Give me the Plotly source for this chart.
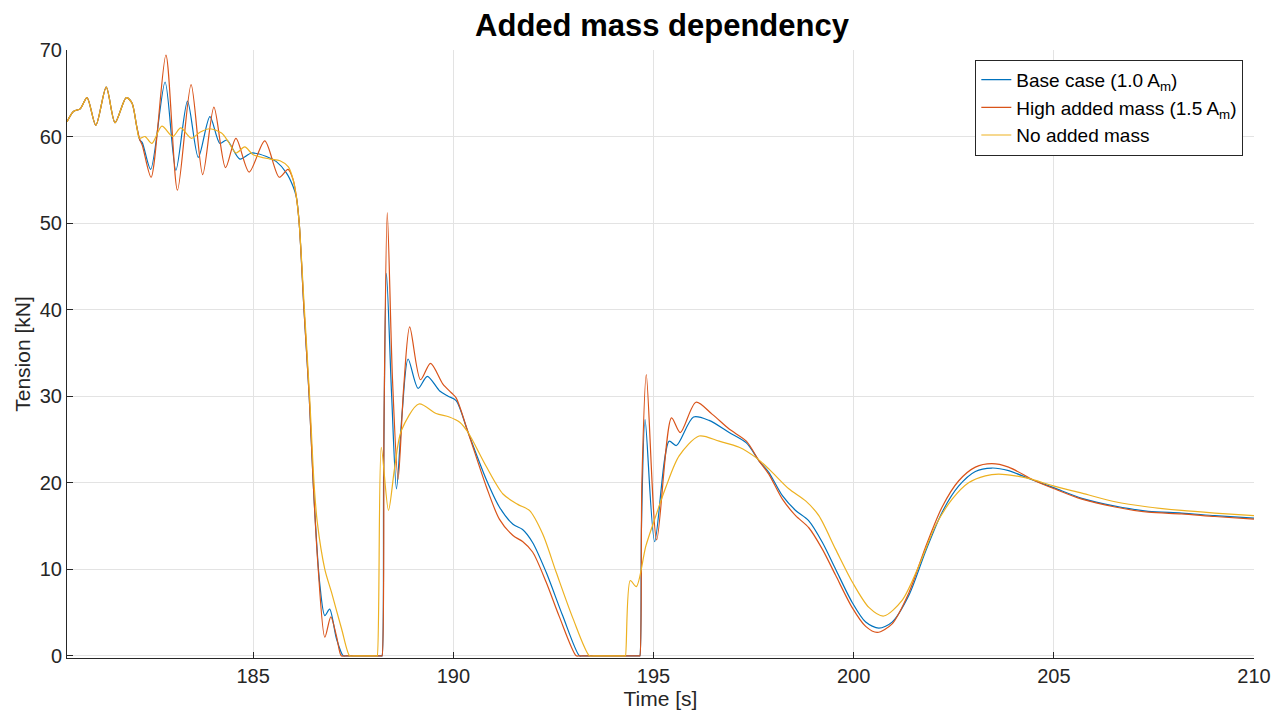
import plotly.graph_objects as go

# ---------------- data ----------------
common_x = [180.35, 180.51, 180.68, 180.85, 181.07, 181.33, 181.55, 181.83, 181.97, 182.09]
common_y = [61.7, 62.9, 63.2, 64.5, 61.3, 65.7, 61.6, 64.5, 63.9, 61.2]

base_x = common_x + [182.17, 182.23, 182.44, 182.80, 183.07, 183.36, 183.63, 183.92, 184.17, 184.34,
                     184.67, 184.96, 185.33, 185.58, 185.83, 186.0, 186.08, 186.15, 186.27, 186.40,
                     186.50, 186.56, 186.66, 186.79, 186.91, 187.08, 187.25, 187.33, 188.21, 188.22,
                     188.26, 188.33, 188.46, 188.58, 188.72, 188.87, 189.12, 189.35, 189.66, 189.87,
                     190.07, 190.37, 190.82, 191.15, 191.49, 191.73, 191.98, 192.32, 192.73, 193.15,
                     193.23, 194.65, 194.66, 194.70, 194.79, 195.03, 195.39, 195.57, 196.0, 196.39,
                     196.89, 197.32, 197.64, 197.88, 198.22, 198.55, 198.88, 199.22, 199.55, 199.96,
                     200.30, 200.63, 200.96, 201.38, 201.79, 202.21, 202.62, 203.04, 203.45, 203.87,
                     204.37, 204.54, 205.01, 205.70, 206.53, 207.36, 208.19, 209.02, 210.0]
base_y = common_y + [59.6, 59.3, 56.2, 66.3, 56.1, 64.1, 57.6, 62.3, 59.2, 59.6,
                     57.4, 58.1, 57.7, 57.1, 55.8, 54.2, 53.0, 50.0, 40.0, 30.0,
                     20.0, 15.0, 8.5, 4.65, 5.4, 2.0, 0.0, 0.0, 0.0, 0.0,
                     22.0, 44.2, 30.0, 19.3, 28.0, 34.3, 30.9, 32.3, 30.6, 30.0,
                     29.5, 25.8, 20.4, 17.2, 15.2, 14.6, 13.1, 9.65, 4.65, 0.0,
                     0.0, 0.0, 0.0, 15.0, 27.3, 13.2, 24.8, 24.3, 27.6, 27.2,
                     25.8, 24.6, 22.5, 21.2, 18.5, 16.8, 15.6, 13.1, 10.0, 6.2,
                     3.9, 3.2, 3.9, 7.0, 12.0, 16.6, 19.6, 21.3, 21.7, 21.4,
                     20.5, 20.2, 19.4, 18.2, 17.3, 16.7, 16.5, 16.2, 15.9]

high_x = common_x + [182.17, 182.23, 182.45, 182.82, 183.11, 183.45, 183.74, 184.02, 184.31, 184.57,
                     184.90, 185.29, 185.65, 185.87, 186.0, 186.08, 186.15, 186.27, 186.40, 186.50,
                     186.62, 186.79, 186.94, 187.08, 187.2, 187.28, 188.21, 188.22, 188.27, 188.35,
                     188.48, 188.62, 188.76, 188.91, 189.18, 189.43, 189.74, 189.95, 190.07, 190.37,
                     190.82, 191.15, 191.49, 191.73, 191.98, 192.32, 192.65, 193.07, 193.15, 194.65,
                     194.66, 194.71, 194.82, 195.08, 195.45, 195.67, 196.06, 196.47, 196.89, 197.32,
                     197.64, 197.88, 198.22, 198.55, 198.88, 199.22, 199.55, 199.96, 200.30, 200.59,
                     200.96, 201.38, 201.79, 202.21, 202.62, 203.04, 203.45, 203.87, 204.37, 204.54,
                     205.01, 205.70, 206.53, 207.36, 208.19, 209.02, 210.0]
high_y = common_y + [59.6, 59.0, 55.3, 69.4, 53.8, 66.0, 55.6, 63.4, 56.4, 59.8,
                     55.9, 59.5, 55.3, 56.2, 55.0, 53.0, 50.0, 40.0, 30.0, 20.0,
                     10.4, 2.15, 4.5, 2.3, 0.0, 0.0, 0.0, 0.0, 28.0, 51.2,
                     32.0, 20.4, 31.0, 38.0, 31.9, 33.8, 31.4, 30.4, 29.8, 25.8,
                     19.6, 15.8, 13.9, 13.2, 12.0, 8.5, 4.5, 0.0, 0.0, 0.0,
                     0.0, 20.0, 32.5, 13.4, 27.5, 25.8, 29.3, 27.9, 26.2, 24.8,
                     22.5, 21.0, 18.1, 16.2, 14.8, 12.3, 9.3, 5.6, 3.4, 2.7,
                     3.7, 7.3, 12.5, 17.2, 20.2, 21.8, 22.2, 21.8, 20.6, 20.2,
                     19.3, 18.1, 17.2, 16.6, 16.4, 16.1, 15.8]

none_x = common_x + [182.16, 182.30, 182.47, 182.72, 182.99, 183.19, 183.46, 183.67, 183.92, 184.21,
                     184.38, 184.57, 184.79, 185.0, 185.42, 185.67, 185.88, 186.0, 186.08, 186.15,
                     186.28, 186.41, 186.52, 186.60, 186.79, 186.96, 187.21, 187.41, 187.50, 188.09,
                     188.10, 188.20, 188.38, 188.53, 188.70, 189.14, 189.57, 189.90, 190.16, 190.37,
                     190.82, 191.24, 191.61, 191.90, 192.23, 192.57, 192.99, 193.40, 193.50, 194.29,
                     194.30, 194.42, 194.57, 194.81, 195.06, 195.31, 195.64, 196.14, 196.64, 197.14,
                     197.56, 197.88, 198.38, 198.80, 199.13, 199.55, 199.97, 200.38, 200.75, 201.21,
                     201.63, 202.04, 202.46, 202.87, 203.29, 203.62, 204.04, 204.37, 205.01, 205.70,
                     206.53, 207.36, 208.19, 209.02, 210.0]
none_y = common_y + [59.8, 60.0, 59.2, 61.2, 60.0, 61.0, 59.8, 60.5, 60.9, 60.4,
                     59.4, 58.1, 58.8, 57.9, 57.4, 57.2, 56.5, 55.0, 53.0, 50.0,
                     40.0, 30.0, 20.0, 15.5, 10.0, 7.3, 3.1, 0.0, 0.0, 0.0,
                     0.0, 24.1, 16.8, 21.6, 26.0, 29.1, 28.0, 27.6, 27.0, 25.8,
                     21.9, 18.7, 17.5, 16.8, 14.1, 9.65, 4.3, 0.0, 0.0, 0.0,
                     0.0, 8.7, 8.0, 12.7, 16.2, 19.5, 23.1, 25.4, 24.8, 24.1,
                     22.9, 21.6, 19.3, 17.9, 16.2, 12.3, 8.5, 5.6, 4.6, 6.4,
                     10.4, 15.0, 18.1, 20.0, 20.8, 21.0, 20.8, 20.5, 19.6, 18.8,
                     17.8, 17.2, 16.8, 16.5, 16.2]

series_names = ["Base case (1.0 A<sub>m</sub>)", "High added mass (1.5 A<sub>m</sub>)", "No added mass"]
series_colors = ["#0072BD", "#D95319", "#EDB120"]

x_ticks = [185, 190, 195, 200, 205, 210]
y_ticks = [0, 10, 20, 30, 40, 50, 60, 70]

# ---------------- figure ----------------
FONT = "Liberation Sans, Arial, Helvetica, sans-serif"
fig = go.Figure()
for xs, ys, name, col in zip([base_x, high_x, none_x], [base_y, high_y, none_y], series_names, series_colors):
    fig.add_trace(go.Scatter(x=xs, y=ys, mode="lines", name=name,
                             line=dict(color=col, width=1.2, shape="spline", smoothing=0.8)))

axis_common = dict(showline=True, linecolor="#262626", linewidth=1, mirror=False,
                   ticks="inside", ticklen=6, tickcolor="#262626", tickwidth=1,
                   showgrid=True, gridcolor="#e3e3e3", gridwidth=1, zeroline=False,
                   tickfont=dict(family=FONT, size=20, color="#262626"))

fig.update_xaxes(range=[180.35, 210.0], tickvals=x_ticks,
                 title=dict(text="Time [s]", font=dict(family=FONT, size=21, color="#262626"), standoff=4),
                 **axis_common)
fig.update_yaxes(range=[-0.25, 70], tickvals=y_ticks,
                 title=dict(text="Tension [kN]", font=dict(family=FONT, size=21, color="#262626"), standoff=3),
                 **axis_common)

fig.update_layout(
    width=1283, height=718,
    margin=dict(l=67, r=26, t=50, b=59),
    paper_bgcolor="white", plot_bgcolor="white",
    title=dict(text="<b>Added mass dependency</b>", x=0.516, xanchor="center",
               y=0.965, yanchor="middle", font=dict(family=FONT, size=31, color="black")),
    legend=dict(x=0.991, xanchor="right", y=0.984, yanchor="top",
                bgcolor="white", bordercolor="#262626", borderwidth=1,
                font=dict(family=FONT, size=19, color="black"), tracegroupgap=0),
    showlegend=True,
)

fig.write_html("out.html", config={"displayModeBar": False},
               post_script="document.body.style.margin='0px';")
